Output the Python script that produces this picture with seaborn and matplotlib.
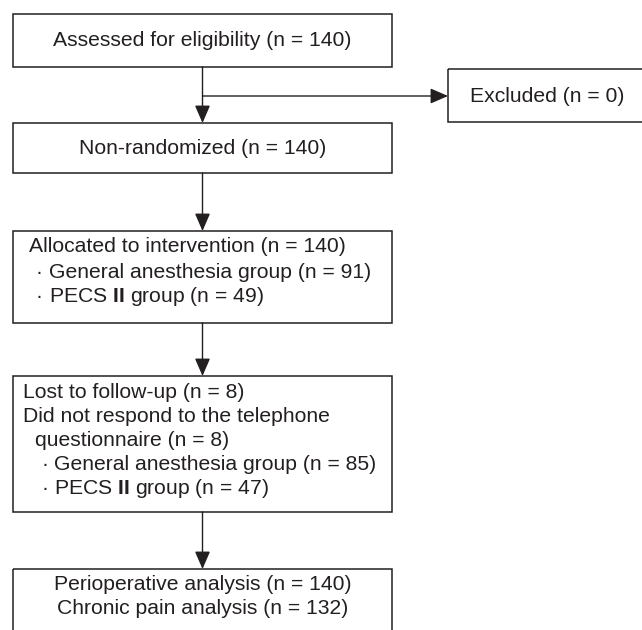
import matplotlib
matplotlib.use("Agg")
import matplotlib.pyplot as plt
import seaborn as sns
from matplotlib.patches import Rectangle

# --- datos del diagrama ---
assessed_n = 140
excluded_n = 0
nonrand_n = 140
allocated_n = 140
alloc_groups = ["General anesthesia group", r"PECS $\mathbf{II}$ group"]
alloc_counts = [91, 49]
lost_n = 8
noresp_n = 8
follow_groups = ["General anesthesia group", r"PECS $\mathbf{II}$ group"]
follow_counts = [85, 47]
periop_n = 140
chronic_n = 132

# --- estilo ---
sns.set_theme(style="white")
plt.rcParams['font.family'] = ['Liberation Sans', 'DejaVu Sans']
plt.rcParams['mathtext.fontset'] = 'custom'
plt.rcParams['mathtext.rm'] = 'Liberation Sans'
plt.rcParams['mathtext.bf'] = 'Liberation Sans:bold'
EDGE = "#231f20"
FS = 15.2
LINE = 24

fig = plt.figure(figsize=(6.42, 6.30), dpi=100)
ax = fig.add_axes([0, 0, 1, 1])
ax.set_xlim(0, 642)
ax.set_ylim(630, 0)
ax.axis('off')

# cajas (x0, y0, x1, y1) en pixeles
MAIN_X = (13, 392)
CX = (MAIN_X[0] + MAIN_X[1]) / 2
boxes = {
    'b1': (MAIN_X[0], 14, MAIN_X[1], 67),
    'ex': (448, 69, 660, 122),
    'b2': (MAIN_X[0], 123, MAIN_X[1], 173),
    'b3': (MAIN_X[0], 231, MAIN_X[1], 323),
    'b4': (MAIN_X[0], 376, MAIN_X[1], 512),
    'b5': (MAIN_X[0], 569, MAIN_X[1], 660),
}
for x0, y0, x1, y1 in boxes.values():
    ax.add_patch(Rectangle((x0, y0), x1 - x0, y1 - y0, fill=False,
                           edgecolor=EDGE, lw=1.1, clip_on=True))

def arrow(p0, p1):
    ax.annotate('', xy=p1, xytext=p0,
                arrowprops=dict(arrowstyle='-|>,head_length=0.6,head_width=0.26',
                                mutation_scale=18, lw=1.0, color=EDGE,
                                shrinkA=0, shrinkB=0))

arrow((CX, boxes['b1'][3]), (CX, boxes['b2'][1]))
arrow((CX, 96), (boxes['ex'][0], 96))
arrow((CX, boxes['b2'][3]), (CX, boxes['b3'][1]))
arrow((CX, boxes['b3'][3]), (CX, boxes['b4'][1]))
arrow((CX, boxes['b4'][3]), (CX, boxes['b5'][1]))

def txt(x, y, s, ha='left'):
    ax.text(x, y, s, ha=ha, va='center', fontsize=FS, color=EDGE)

# textos
txt(CX, 40, f"Assessed for eligibility (n = {assessed_n})", ha='center')
txt(470, 96, f"Excluded (n = {excluded_n})")
txt(CX, 148, f"Non-randomized (n = {nonrand_n})", ha='center')

y = 247
txt(29, y, f"Allocated to intervention (n = {allocated_n})")
for g, n in zip(alloc_groups, alloc_counts):
    y += LINE + 1
    txt(36, y, "·")
    txt(49, y, f"{g} (n = {n})")

y = 392
txt(23, y, f"Lost to follow-up (n = {lost_n})")
y += LINE
txt(23, y, "Did not respond to the telephone")
y += LINE
txt(35, y, f"questionnaire (n = {noresp_n})")
for g, n in zip(follow_groups, follow_counts):
    y += LINE
    txt(41, y, "·")
    txt(54, y, f"{g} (n = {n})")

txt(CX, 585, f"Perioperative analysis (n = {periop_n})", ha='center')
txt(CX, 608, f"Chronic pain analysis (n = {chronic_n})", ha='center')

fig.savefig("out.png", dpi=100)
